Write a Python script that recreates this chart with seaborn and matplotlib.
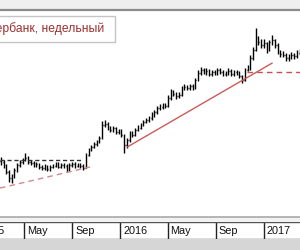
import numpy as np
import pandas as pd
import matplotlib
matplotlib.use("Agg")
import matplotlib.pyplot as plt
import matplotlib.dates as mdates
from matplotlib.patches import Rectangle
from matplotlib.lines import Line2D
import matplotlib.transforms as mtransforms
import seaborn as sns

# ---------------- data ----------------
first_week = "2015-03-02"
opens = [
    71.0, 69.8, 67.3, 61.6, 56.6, 57.5, 63.2, 67.3, 69.8, 71.4,
    73.0, 69.8, 68.9, 67.3, 68.1, 65.7, 64.8, 66.5, 64.0, 65.7,
    66.5, 68.1, 65.7, 67.3, 66.5, 63.2, 67.3, 68.1, 66.5, 67.3,
    66.5, 65.0, 75.5, 79.6, 82.1, 84.5, 86.2, 89.8, 100.1, 100.9,
    97.6, 96.0, 97.6, 94.4, 95.2, 91.9, 83.7, 87.8, 93.5, 91.9,
    96.0, 97.6, 100.1, 102.6, 104.2, 105.8, 108.3, 110.8, 114.0, 114.9,
    116.5, 115.7, 122.2, 127.2, 125.5, 123.9, 124.7, 130.4, 131.3, 130.4,
    132.1, 130.4, 137.0, 142.7, 145.2, 143.6, 144.4, 141.9, 143.6, 142.7,
    145.2, 143.6, 141.9, 142.7, 144.4, 141.9, 143.6, 142.7, 140.3, 137.0,
    145.2, 146.8, 155.0, 161.6, 169.8, 168.2, 165.7, 167.3, 161.6, 168.2,
    169.8, 165.7, 160.0, 158.3, 157.5, 155.0, 155.9, 157.5, 156.7, 159.1,
]
closes = [
    69.8, 67.3, 61.6, 56.6, 57.5, 63.2, 67.3, 69.8, 71.4, 73.0,
    69.8, 68.9, 67.3, 68.1, 65.7, 64.8, 66.5, 64.0, 65.7, 66.5,
    68.1, 65.7, 67.3, 66.5, 63.2, 67.3, 68.1, 66.5, 67.3, 66.5,
    64.8, 75.5, 79.6, 82.1, 84.5, 86.2, 89.4, 100.1, 100.9, 97.6,
    96.0, 97.6, 94.4, 95.2, 91.9, 83.7, 87.8, 93.5, 91.9, 96.0,
    97.6, 100.1, 102.6, 104.2, 105.8, 108.3, 110.8, 114.0, 114.9, 116.5,
    115.7, 122.2, 127.2, 125.5, 123.9, 124.7, 130.4, 131.3, 130.4, 132.1,
    130.4, 137.0, 142.7, 145.2, 143.6, 144.4, 141.9, 143.6, 142.7, 145.2,
    143.6, 141.9, 142.7, 144.4, 141.9, 143.6, 142.7, 140.3, 137.0, 145.2,
    146.8, 155.0, 161.6, 169.8, 168.2, 165.7, 167.3, 161.6, 168.2, 169.8,
    165.7, 160.0, 158.3, 157.5, 155.0, 155.9, 157.5, 156.7, 159.1, 160.0,
]
highs = [
    73.5, 71.8, 68.5, 63.0, 60.0, 64.5, 68.8, 71.5, 73.0, 77.5,
    74.5, 71.5, 70.2, 69.8, 69.0, 67.5, 68.0, 67.5, 67.2, 68.5,
    70.0, 69.5, 69.0, 68.8, 68.0, 68.8, 70.0, 69.5, 69.0, 68.8,
    67.8, 77.0, 81.0, 83.8, 86.5, 88.0, 91.0, 103.5, 104.5, 102.5,
    99.5, 99.5, 98.8, 97.0, 96.5, 92.5, 89.5, 95.0, 95.2, 97.5,
    99.8, 101.8, 104.5, 106.0, 107.5, 110.5, 112.5, 116.0, 117.0, 118.5,
    118.0, 124.5, 130.0, 128.8, 127.0, 127.0, 132.5, 133.5, 133.0, 134.0,
    133.8, 139.0, 145.0, 147.5, 147.0, 146.5, 145.8, 145.5, 145.0, 147.0,
    146.8, 145.0, 144.8, 146.5, 145.8, 145.5, 145.2, 144.0, 141.5, 147.0,
    149.5, 157.5, 164.0, 179.5, 173.0, 171.0, 170.5, 168.5, 170.0, 173.5,
    171.0, 167.0, 162.0, 160.5, 159.0, 158.5, 160.0, 159.5, 161.5, 162.5,
]
lows = [
    67.5, 65.0, 59.8, 53.0, 52.8, 56.8, 62.0, 66.0, 68.5, 70.5,
    68.5, 67.2, 65.8, 66.0, 64.0, 63.2, 63.5, 62.5, 62.8, 64.5,
    65.5, 64.5, 64.8, 65.0, 61.5, 62.5, 66.0, 65.2, 65.5, 65.0,
    63.5, 64.5, 74.5, 78.5, 81.0, 83.0, 85.0, 89.0, 98.5, 96.0,
    94.0, 94.5, 93.0, 92.8, 90.0, 77.0, 81.5, 86.5, 90.5, 90.8,
    95.0, 96.5, 99.0, 101.5, 102.8, 104.5, 107.0, 109.5, 112.5, 113.5,
    113.8, 115.0, 121.0, 123.5, 121.5, 122.0, 123.8, 128.8, 128.5, 128.8,
    128.5, 129.5, 136.0, 141.0, 141.8, 141.5, 140.0, 140.5, 140.8, 141.5,
    141.8, 140.0, 140.2, 141.0, 140.0, 140.3, 140.8, 138.5, 134.5, 136.0,
    144.0, 145.5, 153.5, 160.5, 165.5, 163.0, 163.5, 159.5, 160.5, 166.0,
    163.5, 158.0, 156.0, 155.5, 152.5, 152.8, 154.0, 154.5, 155.0, 157.5,
]

# trend lines (dates, prices)
support_2015_dates = ["2015-02-28", "2015-10-16"]
support_2015_prices = [48.4, 65.7]
resist_2015_dates = ["2015-02-28", "2015-09-28"]
resist_2015_prices = [71.4, 71.4]
trend_2016_dates = ["2016-01-19", "2017-01-23"]
trend_2016_prices = [82.1, 150.9]
level_2017_dates = ["2016-11-20", "2017-04-10"]
level_2017_prices = [143.6, 143.6]

tick_dates = ["2015-01-01", "2015-05-01", "2015-09-01", "2016-01-01",
              "2016-05-01", "2016-09-01", "2017-01-01"]
tick_labels = ["2015", "May", "Sep", "2016", "May", "Sep", "2017"]

title = "Сбербанк, недельный"

# ---------------- figure ----------------
sns.set_theme(style="white")
plt.rcParams["font.family"] = ["Liberation Sans", "DejaVu Sans"]

W, H = 300, 250
fig = plt.figure(figsize=(W / 100, H / 100), dpi=100)
fig.patch.set_facecolor("white")


def fy(px):
    return 1 - px / H


# main plot axes (px y 10..217)
ax = fig.add_axes([0, fy(217), 1, (217 - 10) / H])
ax.set_facecolor("white")
for s in ax.spines.values():
    s.set_visible(False)

dates = pd.date_range(first_week, periods=len(closes), freq="7D")
df = pd.DataFrame({"date": dates, "open": opens, "high": highs,
                   "low": lows, "close": closes})
dn = mdates.date2num(df["date"])

ax.vlines(dn, df["low"], df["high"], color="black", lw=1.0)
ax.hlines(df["open"], dn - 1.6, dn, color="black", lw=1.0)
ax.hlines(df["close"], dn, dn + 1.6, color="black", lw=1.0)


def trend(d, p, color, dash=None, lw=1.0):
    tdf = pd.DataFrame({"d": pd.to_datetime(d), "p": p})
    sns.lineplot(data=tdf, x="d", y="p", ax=ax, color=color, lw=lw)
    ln = ax.lines[-1]
    if dash is not None:
        ln.set_linestyle((0, dash))


trend(support_2015_dates, support_2015_prices, "#d48a8a", (4, 3))
trend(resist_2015_dates, resist_2015_prices, "#333333", (3, 2))
trend(trend_2016_dates, trend_2016_prices, "#cc5a5a")
trend(level_2017_dates, level_2017_prices, "#c45050", (4, 3))

ax.set_xlim(mdates.date2num(pd.Timestamp("2015-02-28")),
            mdates.date2num(pd.Timestamp("2017-04-04")))
ax.set_ylim(24.7, 194.4)
ax.set_xlabel("")
ax.set_ylabel("")
ax.set_xticks([])
ax.set_yticks([])

# top gray band and frame line
fig.patches.append(Rectangle((0, fy(9)), 1, 9 / H, transform=fig.transFigure,
                             facecolor="#efefef", edgecolor="none"))
fig.lines.append(Line2D([0, 1], [fy(10), fy(10)], transform=fig.transFigure,
                        color="#8a8a8a", lw=1.6))
# bottom of plot line
fig.lines.append(Line2D([0, 1], [fy(217), fy(217)], transform=fig.transFigure,
                        color="#a8a8a8", lw=1.2))
fig.patches.append(Rectangle((0, fy(222)), 1, 5 / H, transform=fig.transFigure,
                             facecolor="#f2f2f2", edgecolor="none"))
# bottom gray band
fig.patches.append(Rectangle((0, 0), 1, fy(239), transform=fig.transFigure,
                             facecolor="#d6d6d6", edgecolor="none"))

# label band axes
bx = fig.add_axes([0, fy(239), 1, 17 / H])
bx.set_facecolor("white")
bx.set_xlim(ax.get_xlim())
bx.set_ylim(0, 1)
bx.set_xticks([])
bx.set_yticks([])
for k, s in bx.spines.items():
    s.set_visible(k in ("top", "bottom"))
    s.set_color("#555555")
    s.set_linewidth(1.0)
tnum = mdates.date2num(pd.to_datetime(tick_dates))
bx.vlines(tnum, 0, 1, color="#222222", lw=1.0)
offset = mtransforms.offset_copy(bx.transData, fig=fig, x=3, y=0, units="dots")
for t, lab in zip(tnum, tick_labels):
    bx.text(t, 0.45, lab, transform=offset, ha="left", va="center",
            fontsize=7.8, color="#111111")

# title box (partly cut off at the left edge)
fig.patches.append(Rectangle((-20 / W, fy(42)), 135 / W, 26 / H,
                             transform=fig.transFigure, facecolor="white",
                             edgecolor="#c4c4c4", lw=1.0, zorder=5))
fig.text(104 / W, fy(29), title, ha="right", va="center", fontsize=8.7,
         color="#9c3030", zorder=6)

fig.savefig("out.png", dpi=100, facecolor="white")
